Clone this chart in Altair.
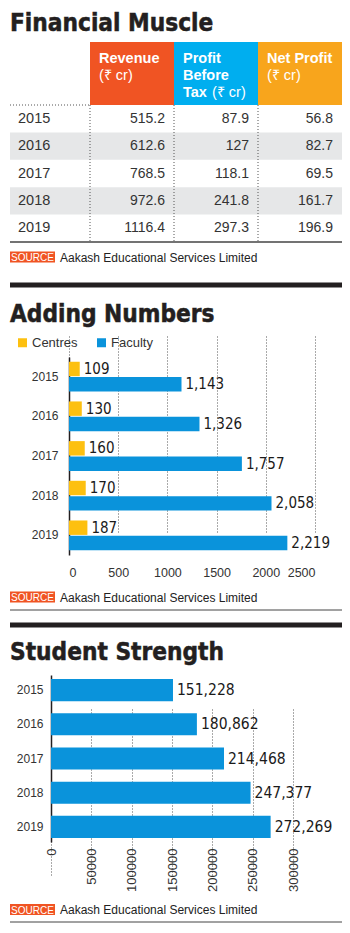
import altair as alt
import pandas as pd

# ---------------- data ----------------
years = ["2015", "2016", "2017", "2018", "2019"]
revenue = [515.2, 612.6, 768.5, 972.6, 1116.4]
profit_before_tax = [87.9, 127, 118.1, 241.8, 297.3]
net_profit = [56.8, 82.7, 69.5, 161.7, 196.9]
metrics = ["Revenue", "Profit Before Tax", "Net Profit"]
table_cols = ["Year"] + metrics
header_bold = ["Revenue", "Profit\nBefore\nTax", "Net Profit"]
header_unit = "(₹ cr)"

series2 = ["Centres", "Faculty"]
centres = [109, 130, 160, 170, 187]
faculty = [1143, 1326, 1757, 2058, 2219]
ticks2 = [0, 500, 1000, 1500, 2000, 2500]

students = [151228, 180862, 214468, 247377, 272269]
ticks3 = [0, 50000, 100000, 150000, 200000, 250000, 300000]

titles = ["Financial Muscle", "Adding Numbers", "Student Strength"]
source_tag = "SOURCE"
source_text = "Aakash Educational Services Limited"

# ---------------- style ----------------
ORANGE = "#F05423"
CYAN = "#00AEEF"
AMBER = "#F8A51C"
YELLOW = "#FDC010"
BLUE = "#0A93DB"
GREY_ROW = "#E6E7E8"
INK = "#231F20"
TEXT = "#333333"
TITLE_FONT = "DejaVu Sans Condensed"
NUM_FONT = "DejaVu Sans Condensed"
BODY_FONT = "Liberation Sans"
W = 350


def deco():
    return alt.Chart(pd.DataFrame({"k": [0]}))


def title_layer(text, y):
    return deco().mark_text(
        text=text, align="left", baseline="alphabetic", font=TITLE_FONT,
        fontSize=24.2, fontWeight="bold", color=INK, stroke=INK, strokeWidth=0.5,
    ).encode(x=alt.value(10), y=alt.value(y))


def hline(y, width=1.0, color="#444444", x1=10, x2=342, dash=None):
    kw = dict(color=color, strokeWidth=width)
    if dash:
        kw["strokeDash"] = dash
    return deco().mark_rule(**kw).encode(
        x=alt.value(x1), x2=alt.value(x2), y=alt.value(y))


def source_layers(top):
    box = deco().mark_rect(color=ORANGE).encode(
        x=alt.value(10), x2=alt.value(55), y=alt.value(top), y2=alt.value(top + 11))
    tag = deco().mark_text(
        text=source_tag, align="center", baseline="alphabetic", font=BODY_FONT,
        fontSize=10, color="white").encode(x=alt.value(32.5), y=alt.value(top + 9.5))
    txt = deco().mark_text(
        text=source_text, align="left", baseline="alphabetic", font=BODY_FONT,
        fontSize=12, color="#222222").encode(x=alt.value(60), y=alt.value(top + 10))
    return [box, tag, txt]


# ---------------- section 1 : table ----------------
rows = []
for i, yr in enumerate(years):
    for m, vals in zip(metrics, [revenue, profit_before_tax, net_profit]):
        rows.append({"year": yr, "metric": m, "label": f"{vals[i]:g}"})
table_df = pd.DataFrame(rows)
year_df = pd.DataFrame({"year": years, "idx": list(range(len(years)))})
head_df = pd.DataFrame({"metric": metrics, "bold": header_bold, "unit": [header_unit] * 3})

xs1 = alt.Scale(domain=table_cols, range=[6, 342], paddingInner=0, paddingOuter=0)
ys1 = alt.Scale(domain=years, range=[105, 242], paddingInner=0, paddingOuter=0)

bands = alt.Chart(year_df).mark_rect(color=GREY_ROW).encode(
    y=alt.Y("year:N", scale=ys1, axis=None), x=alt.value(10), x2=alt.value(342)
).transform_filter("datum.idx % 2 == 1")

head_rect = alt.Chart(head_df).mark_rect().encode(
    x=alt.X("metric:N", scale=xs1, axis=None),
    y=alt.value(42), y2=alt.value(105),
    color=alt.Color("metric:N", scale=alt.Scale(domain=metrics, range=[ORANGE, CYAN, AMBER]), legend=None),
)
head_bold = alt.Chart(head_df).mark_text(
    align="left", baseline="alphabetic", lineBreak="\n", lineHeight=17,
    font=BODY_FONT, fontSize=14.5, fontWeight="bold", color="white", dx=9,
).encode(x=alt.X("metric:N", scale=xs1, axis=None, bandPosition=0), y=alt.value(63), text="bold:N")
head_unit_a = alt.Chart(head_df).mark_text(
    align="left", baseline="alphabetic", font=BODY_FONT, fontSize=14.5, color="white", dx=9,
).encode(x=alt.X("metric:N", scale=xs1, axis=None, bandPosition=0), y=alt.value(80), text="unit:N"
).transform_filter("datum.metric != 'Profit Before Tax'")
head_unit_b = alt.Chart(head_df).mark_text(
    align="left", baseline="alphabetic", font=BODY_FONT, fontSize=14.5, color="white", dx=38,
).encode(x=alt.X("metric:N", scale=xs1, axis=None, bandPosition=0), y=alt.value(97), text="unit:N"
).transform_filter("datum.metric == 'Profit Before Tax'")

seps = alt.Chart(head_df).mark_rule(color="#555555", strokeDash=[1, 2], strokeWidth=1).encode(
    x=alt.X("metric:N", scale=xs1, axis=None, bandPosition=0), y=alt.value(105), y2=alt.value(242))

year_txt = alt.Chart(year_df).mark_text(
    align="left", baseline="middle", font=BODY_FONT, fontSize=14.5, color=TEXT
).encode(x=alt.value(18), y=alt.Y("year:N", scale=ys1, axis=None), text="year:N")
val_txt = alt.Chart(table_df).mark_text(
    align="right", baseline="middle", font=BODY_FONT, fontSize=14, color=TEXT, dx=-9
).encode(
    x=alt.X("metric:N", scale=xs1, axis=None, bandPosition=1),
    y=alt.Y("year:N", scale=ys1, axis=None), text="label:N")

s1 = alt.layer(
    bands, head_rect, seps,
    hline(105, 1, "#555555", 10, 90, [1, 2]),
    hline(242, 1.5, "#444444"),
    head_bold, head_unit_a, head_unit_b, year_txt, val_txt,
    title_layer(titles[0], 31),
    *source_layers(251.5),
).properties(width=W, height=272)

# ---------------- section 2 : centres & faculty ----------------
rows2 = []
for i, yr in enumerate(years):
    rows2.append({"year": yr, "series": series2[0], "value": centres[i]})
    rows2.append({"year": yr, "series": series2[1], "value": faculty[i]})
df2 = pd.DataFrame(rows2)

H2 = 345
x2enc = alt.X("value:Q", scale=alt.Scale(domain=[0, 2500], range=[69, 315], nice=False),
              axis=alt.Axis(title=None, orient="bottom", offset=283 - H2, domain=False, ticks=False,
                            values=ticks2, format="d", labelPadding=11, labelFont=BODY_FONT,
                            labelFontSize=12.5, labelColor=TEXT, grid=True, gridDash=[1, 2],
                            gridColor="#555555", gridWidth=1))
y2enc = alt.Y("year:N", scale=alt.Scale(domain=years, range=[85, 283], paddingInner=0.25, paddingOuter=0.12),
              axis=alt.Axis(title=None, orient="left", offset=-69, domain=True, domainColor=INK,
                            domainWidth=1.5, ticks=False, labelPadding=11, labelFont=BODY_FONT,
                            labelFontSize=12, labelColor=TEXT, grid=False))
yoff2 = alt.YOffset("series:N", scale=alt.Scale(domain=series2, paddingInner=0.06))

bars2 = alt.Chart(df2).mark_bar().encode(
    x=x2enc, y=y2enc, yOffset=yoff2,
    color=alt.Color("series:N", scale=alt.Scale(domain=series2, range=[YELLOW, BLUE]),
                    legend=alt.Legend(orient="none", legendX=16, legendY=64, direction="horizontal",
                                      title=None, symbolType="square", symbolSize=81,
                                      symbolStrokeWidth=0, labelFont=BODY_FONT, labelFontSize=13,
                                      labelColor=TEXT, labelOffset=3, columnPadding=17, padding=0)),
)
lab2 = alt.Chart(df2).mark_text(
    align="left", baseline="middle", dx=4, font=NUM_FONT, fontSize=15, color="#1a1a1a"
).encode(x=x2enc, y=y2enc, yOffset=yoff2, text=alt.Text("value:Q", format=","))

s2 = alt.layer(
    bars2, lab2,
    hline(13, 5, INK),
    title_layer(titles[1], 49.5),
    *source_layers(319.5),
    hline(338, 1, "#444444"),
).properties(width=W, height=H2)

# ---------------- section 3 : students ----------------
df3 = pd.DataFrame({"year": years, "value": students})
H3 = 316
x3enc = alt.X("value:Q", scale=alt.Scale(domain=[0, 300000], range=[51, 293], nice=False),
              axis=alt.Axis(title=None, orient="bottom", offset=225 - H3, domain=False, ticks=False,
                            values=ticks3, format="d", labelAngle=-90, labelPadding=6,
                            labelFont=BODY_FONT, labelFontSize=13, labelColor=TEXT, grid=True,
                            gridDash=[1, 2], gridColor="#555555", gridWidth=1))
y3enc = alt.Y("year:N", scale=alt.Scale(domain=years, range=[58, 225], paddingInner=0.355, paddingOuter=0.12),
              axis=alt.Axis(title=None, orient="left", offset=-51, domain=True, domainColor=INK,
                            domainWidth=1.5, ticks=False, labelPadding=8, labelFont=BODY_FONT,
                            labelFontSize=12, labelColor=TEXT, grid=False))
bars3 = alt.Chart(df3).mark_bar(color=BLUE).encode(x=x3enc, y=y3enc)
lab3 = alt.Chart(df3).mark_text(
    align="left", baseline="middle", dx=4, font=NUM_FONT, fontSize=15.5, color="#1a1a1a"
).encode(x=x3enc, y=y3enc, text=alt.Text("value:Q", format=","))

s3 = alt.layer(
    bars3, lab3,
    hline(8, 5, INK),
    title_layer(titles[2], 43),
    *source_layers(287),
    hline(305, 1, "#444444"),
).properties(width=W, height=H3)

chart = alt.vconcat(s1, s2, s3, spacing=0).resolve_scale(
    color="independent", x="independent", y="independent"
).properties(padding=0, background="white").configure_view(stroke=None)

chart.save("out.html", embed_options={"renderer": "svg", "actions": False})
